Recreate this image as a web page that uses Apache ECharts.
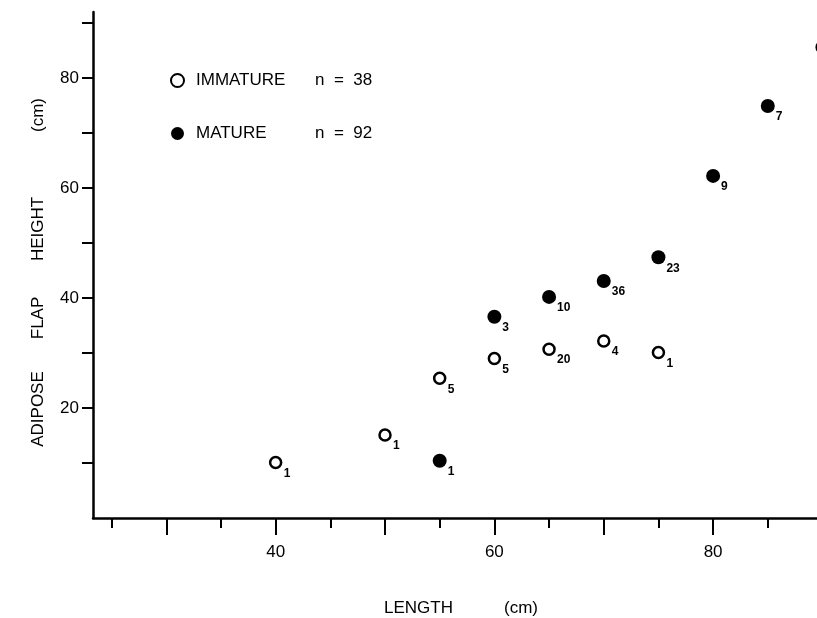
<!DOCTYPE html>
<html>
<head>
<meta charset="utf-8">
<script src="https://cdn.jsdelivr.net/npm/echarts@6/dist/echarts.min.js"></script>
<style>
  html, body { margin: 0; padding: 0; background: #fff; }
  #chart { width: 817px; height: 618px; }
</style>
</head>
<body>
<div id="chart"></div>
<script>
// immature fish: length (cm), adipose flap height (cm), sample count
const lengthImm = [40, 50, 55, 60, 65, 70, 75]
const heightImm = [10.1, 15.1, 25.4, 29.0, 30.7, 32.2, 30.1]
const countImm = [1, 1, 5, 5, 20, 4, 1]

// mature fish (last point sits on the right edge, mostly cut off)
const lengthMat = [55, 60, 65, 70, 75, 80, 85, 90]
const heightMat = [10.4, 36.6, 40.2, 43.1, 47.4, 62.2, 74.9, 85.6]
const countMat = [1, 3, 10, 36, 23, 9, 7, 3]

const xMajorTicks = [30, 40, 50, 60, 70, 80]
const xMinorTicks = [25, 35, 45, 55, 65, 75, 85]
const xLabels = [40, 60, 80]
const yTicks = [10, 20, 30, 40, 50, 60, 70, 80, 90]
const yLabels = [20, 40, 60, 80]

const legendN = { IMMATURE: 38, MATURE: 92 }

const FONT = '"Liberation Sans", Arial, Helvetica, sans-serif'
const INK = '#000'

const chart = echarts.init(document.getElementById('chart'))

function toPoints(xs, ys, ns) {
  return xs.map((x, i) => [x, ys[i], ns[i]])
}

const countLabel = {
  show: true,
  position: 'inside',
  align: 'left',
  verticalAlign: 'middle',
  offset: [8, 11],
  formatter: (p) => String(p.value[2]),
  color: INK,
  fontFamily: FONT,
  fontWeight: 'bold',
  fontSize: 12,
}

const xCommon = {
  type: 'value',
  position: 'bottom',
  min: 23.3,
  max: 89.5,
  splitLine: { show: false },
}

// rotated words of the y axis title, centred where they sit in the figure
const yTitleWords = [
  ['ADIPOSE', 409],
  ['FLAP', 318],
  ['HEIGHT', 229],
  ['(cm)', 115],
]

const option = {
  animation: false,
  backgroundColor: '#fff',
  grid: { left: 93, right: 0, top: 12, bottom: 100, outerBoundsMode: 'none', containLabel: false },
  legend: {
    left: 165,
    top: 67,
    orient: 'vertical',
    itemGap: 36,
    itemWidth: 13,
    itemHeight: 13,
    icon: 'circle',
    selectedMode: false,
    data: ['IMMATURE', 'MATURE'],
    formatter: (name) => '{a|' + name + '}{b|n  =  ' + legendN[name] + '}',
    textStyle: {
      color: INK,
      fontFamily: FONT,
      fontSize: 17,
      rich: {
        a: { width: 119, padding: [0, 0, 0, 7], fontFamily: FONT, fontSize: 17, color: INK },
        b: { fontFamily: FONT, fontSize: 17, color: INK },
      },
    },
  },
  xAxis: [
    {
      ...xCommon,
      name: '{a|LENGTH}{g| }{a|(cm)}',
      nameLocation: 'middle',
      nameGap: 82,
      nameTextStyle: {
        color: INK,
        fontFamily: FONT,
        fontSize: 17,
        padding: [0, 0, 0, 12],
        rich: {
          a: { fontFamily: FONT, fontSize: 17, color: INK },
          g: { width: 51, fontSize: 17 },
        },
      },
      axisLine: { show: true, onZero: false, lineStyle: { color: INK, width: 2.5 } },
      axisTick: {
        show: true,
        customValues: xMajorTicks,
        length: 17,
        lineStyle: { color: INK, width: 2 },
      },
      axisLabel: {
        customValues: xLabels,
        margin: 26,
        color: INK,
        fontFamily: FONT,
        fontSize: 17,
      },
    },
    {
      ...xCommon,
      axisLine: { show: false, onZero: false },
      axisTick: {
        show: true,
        customValues: xMinorTicks,
        length: 10,
        lineStyle: { color: INK, width: 2 },
      },
      axisLabel: { show: false },
    },
  ],
  yAxis: {
    type: 'value',
    min: 0,
    max: 92,
    splitLine: { show: false },
    axisLine: { show: true, onZero: false, lineStyle: { color: INK, width: 2.5 } },
    axisTick: {
      show: true,
      customValues: yTicks,
      length: 11,
      lineStyle: { color: INK, width: 2 },
    },
    axisLabel: {
      customValues: yLabels,
      margin: 14,
      color: INK,
      fontFamily: FONT,
      fontSize: 17,
    },
  },
  graphic: yTitleWords.map(([word, y]) => ({
    type: 'text',
    x: 38,
    y: y,
    rotation: Math.PI / 2,
    style: {
      text: word,
      align: 'center',
      verticalAlign: 'middle',
      fill: INK,
      font: '17px ' + FONT,
    },
  })),
  series: [
    {
      name: 'IMMATURE',
      type: 'scatter',
      clip: false,
      symbol: 'circle',
      symbolSize: 11,
      itemStyle: { color: '#fff', borderColor: INK, borderWidth: 2.5, opacity: 1 },
      label: countLabel,
      data: toPoints(lengthImm, heightImm, countImm),
    },
    {
      name: 'MATURE',
      type: 'scatter',
      clip: false,
      symbol: 'circle',
      symbolSize: 14,
      itemStyle: { color: INK, borderWidth: 0, opacity: 1 },
      label: countLabel,
      data: toPoints(lengthMat, heightMat, countMat),
    },
  ],
}

chart.setOption(option)
</script>
</body>
</html>
